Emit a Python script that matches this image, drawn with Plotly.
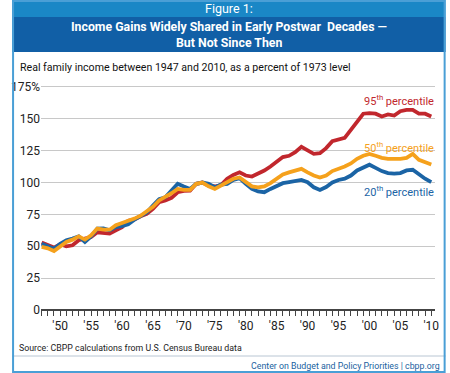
import plotly.graph_objects as go

years = list(range(1947, 2011))
p95 = [53, 51, 49, 51.6, 50, 50.8, 54.7, 56, 57.3, 61, 60.5, 60, 62.6, 65, 70, 71, 73.5, 75.4, 79.3, 84.6,
       86, 88, 92.4, 93.5, 93.7, 99, 100, 97.6, 96.9, 98, 102.9, 106, 108, 105.5, 104.7, 106.8, 109.4, 112.6,
       116, 120, 121, 123.8, 128, 125.6, 122.5, 123, 127, 132.5, 133.5, 135, 141.4, 147.4, 154, 154.4, 154,
       151.8, 153.4, 152.6, 156, 157, 157, 154, 154, 151.8]
p20 = [52, 50, 48, 52, 54.7, 56, 57.8, 53.4, 57.8, 63.9, 64, 62.6, 65, 65.7, 67.3, 70.9, 74, 76.5, 82, 87,
       88.5, 94.2, 99, 96.9, 95, 99, 100, 99, 96.3, 98.4, 99, 102, 103.5, 99, 95, 93, 92.4, 95, 97.6, 99.5,
       100.3, 101, 102, 100.3, 96.3, 94.2, 96.5, 100, 102, 103, 105.5, 109.5, 111.5, 114, 111.5, 109, 107.4,
       107, 107.4, 109.5, 110, 106.3, 103, 100.3]
p50 = [49.5, 48.4, 46.3, 50, 53.4, 55.2, 57.8, 55.2, 58.6, 63.9, 63, 63, 66.5, 68.3, 69.9, 71.7, 74, 77.5,
       81, 86, 88.5, 91.6, 95, 94.2, 94.2, 99, 100, 97, 95, 97.6, 100.3, 103, 104, 100.3, 97, 96.3, 97, 99.5,
       103, 106.3, 108, 109, 110.7, 108, 105.5, 104, 105.5, 109, 110.7, 112.6, 115, 118.6, 121, 122.5, 121,
       119.4, 118.6, 118.3, 118.6, 119.4, 122.5, 117.8, 116, 114.2]

ytick_vals = [0, 25, 50, 75, 100, 125, 150, 175]
ytick_text = ["0", "25", "50", "75", "100", "125", "150", "175%"]
xtick_vals = list(range(1950, 2011, 5))
xtick_text = ["'50", "'55", "'60", "'65", "'70", "'75", "'80", "'85", "'90", "'95", "'00", "'05", "'10"]

RED = "#c1272d"
ORANGE = "#f5a11c"
BLUE = "#1b64a5"
FONT = "Roboto, sans-serif"

W, H = 450, 373
L, R, T, B = 30, 11, 83, 63
PW, PH = W - L - R, H - T - B

def px(x):
    return (x - L) / PW

def py(y):
    return (H - B - y) / PH

fig = go.Figure()
for name, vals, col in [("95th", p95, RED), ("20th", p20, BLUE), ("50th", p50, ORANGE)]:
    fig.add_trace(go.Scatter(x=years, y=vals, mode="lines", name=name,
                             line=dict(color=col, width=3.8), hoverinfo="skip"))

shapes = [
    dict(type="rect", xref="paper", yref="paper", x0=px(0), x1=px(W), y0=py(17), y1=py(0),
         fillcolor="#1a87c6", line=dict(width=0), layer="below"),
    dict(type="rect", xref="paper", yref="paper", x0=px(0), x1=px(W), y0=py(52), y1=py(17),
         fillcolor="#115fa6", line=dict(width=0), layer="below"),
    dict(type="line", xref="paper", yref="paper", x0=px(0), x1=px(W), y0=py(356), y1=py(356),
         line=dict(color="#b9c6d3", width=1)),
    dict(type="rect", xref="paper", yref="paper", x0=px(1), x1=px(449), y0=py(372), y1=py(1),
         line=dict(color="#4a9fd6", width=2), fillcolor="rgba(0,0,0,0)"),
]

ann = [
    dict(text="Figure 1:", x=px(225), y=py(9), font=dict(size=12.5, color="white", family=FONT)),
    dict(text="<b>Income Gains Widely Shared in Early Postwar  Decades —</b>", x=px(225), y=py(27),
         font=dict(size=12.3, color="white", family=FONT)),
    dict(text="<b>But Not Since Then</b>", x=px(225), y=py(43), font=dict(size=12.3, color="white", family=FONT)),
    dict(text="Real family income between 1947 and 2010, as a percent of 1973 level", x=px(6), y=py(68),
         xanchor="left", font=dict(size=10.6, color="#111111", family=FONT)),
    dict(text="95<sup>th</sup> percentile", x=px(440), y=py(100), xanchor="right",
         font=dict(size=11, color=RED, family=FONT)),
    dict(text="50<sup>th</sup> percentile", x=px(440), y=py(147), xanchor="right",
         font=dict(size=11, color=ORANGE, family=FONT)),
    dict(text="20<sup>th</sup> percentile", x=px(440), y=py(191), xanchor="right",
         font=dict(size=11, color=BLUE, family=FONT)),
    dict(text="Source: CBPP calculations from U.S. Census Bureau data", x=px(5), y=py(348), xanchor="left",
         font=dict(size=8.8, color="#222222", family=FONT)),
    dict(text="Center on Budget and Policy Priorities | cbpp.org", x=px(446), y=py(366), xanchor="right",
         font=dict(size=8.8, color="#1a5fa0", family=FONT)),
]
for a in ann:
    a.update(xref="paper", yref="paper", showarrow=False, yanchor=a.get("yanchor", "middle"))
    a.setdefault("xanchor", "center")

fig.update_layout(
    width=W, height=H, margin=dict(l=L, r=R, t=T, b=B),
    paper_bgcolor="white", plot_bgcolor="white", showlegend=False,
    shapes=shapes, annotations=ann,
    xaxis=dict(range=[1946.9, 2010.6], tickvals=xtick_vals, ticktext=xtick_text, ticks="outside",
               ticklen=5, tickcolor="#444444", tickwidth=1, showgrid=False, zeroline=False,
               showline=False, tickfont=dict(size=12, color="#222222", family=FONT),
               minor=dict(tickvals=years, ticks="outside", ticklen=5, tickcolor="#444444", tickwidth=1)),
    yaxis=dict(range=[0, 178.1], tickvals=ytick_vals, ticktext=ytick_text, showgrid=True,
               gridcolor="#c8c8c8", gridwidth=1, zeroline=True, zerolinecolor="#444444", zerolinewidth=1.5,
               ticks="", showline=False, tickfont=dict(size=12, color="#222222", family=FONT)),
)

fig.write_html("out.html", config={"displayModeBar": False},
               post_script="document.body.style.margin='0';document.body.style.overflow='hidden';")
